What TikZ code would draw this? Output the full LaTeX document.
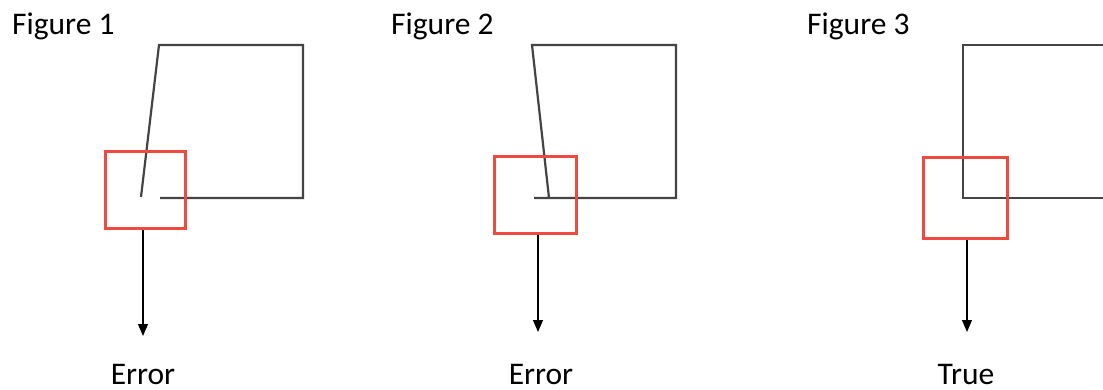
\documentclass[tikz,border=0pt]{standalone}
\usepackage{fontspec}
\setmainfont{Carlito}
\usetikzlibrary{arrows.meta}
\definecolor{frame}{HTML}{444444}
\definecolor{boxred}{HTML}{EE4A40}
\tikzset{
  frameline/.style={draw=frame, line width=2.2pt},
  redbox/.style={draw=boxred, line width=3pt, rectangle, inner sep=0pt},
  outarrow/.style={draw=black, line width=1.2pt, -{Triangle[width=10pt,length=12pt]}},
  lbl/.style={font=\fontsize{31.5}{36}\selectfont, inner sep=0pt},
}
\begin{document}
\begin{tikzpicture}[x=1pt,y=-1pt]
\useasboundingbox (0,0) rectangle (1103,390);
\clip (0,0) rectangle (1103,390);
\fill[white] (0,0) rectangle (1103,390);
% titles
\node[lbl, anchor=base west] (t1) at (12,35) {Figure 1};
\node[lbl, anchor=base west] (t2) at (391,35) {Figure 2};
\node[lbl, anchor=base west] (t3) at (807,35) {Figure 3};
% Figure 1
\draw[frameline, line join=miter] (141,197) -- (159,45) -- (303,45) -- (303,198) -- (160,198);
\node[redbox, minimum width=80pt, minimum height=77pt] (b1) at (145,190.5) {};
\coordinate (e1) at (143,336);
\draw[outarrow] (b1.south -| e1) -- (e1);
\node[lbl, anchor=base] (r1) at (143,384) {Error};
% Figure 2
\draw[frameline] (549,198) -- (532,45) -- (676,45) -- (676,198) -- (534,198);
\node[redbox, minimum width=82pt, minimum height=77pt] (b2) at (535,195.5) {};
\coordinate (e2) at (538,332);
\draw[outarrow] (b2.south -| e2) -- (e2);
\node[lbl, anchor=base] (r2) at (541,384) {Error};
% Figure 3
\draw[frameline] (1110,45) -- (963,45) -- (963,198) -- (1110,198);
\node[redbox, minimum width=84pt, minimum height=81pt] (b3) at (965,198.5) {};
\coordinate (e3) at (967,332);
\draw[outarrow] (b3.south -| e3) -- (e3);
\node[lbl, anchor=base] (r3) at (966,384) {True};
\end{tikzpicture}
\end{document}
